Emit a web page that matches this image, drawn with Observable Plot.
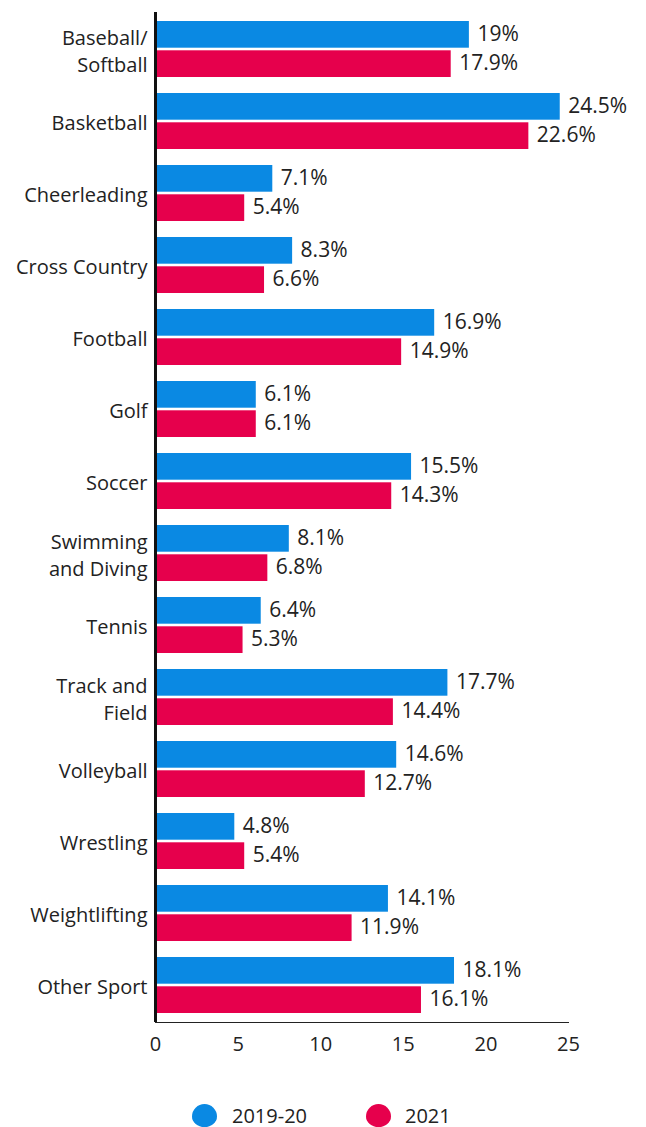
<!DOCTYPE html>
<html>
<head>
<meta charset="utf-8">
<script src="https://cdn.jsdelivr.net/npm/d3@7"></script>
<script src="https://cdn.jsdelivr.net/npm/@observablehq/plot@0.6"></script>
<style>
  body { margin: 0; background: #fff; font-family: "Open Sans", sans-serif; color: #222; }
  #chart { position: absolute; left: 0; top: 0; }
  .legend { position: absolute; top: 1104px; left: 0; width: 646px; height: 22px; font-size: 20px; }
  .legend .sw { position: absolute; width: 25px; height: 23px; border-radius: 50% 50% 50% 50% / 54% 54% 46% 46%; top: 0; }
  .legend .lb { position: absolute; top: 2px; height: 20px; line-height: 20px; white-space: nowrap; }
</style>
</head>
<body>
<div id="chart"></div>
<div class="legend" id="legend"></div>
<script>
const sports = ["Baseball/\nSoftball", "Basketball", "Cheerleading", "Cross Country", "Football", "Golf", "Soccer", "Swimming\nand Diving", "Tennis", "Track and\nField", "Volleyball", "Wrestling", "Weightlifting", "Other Sport"];
const values2019 = [19, 24.5, 7.1, 8.3, 16.9, 6.1, 15.5, 8.1, 6.4, 17.7, 14.6, 4.8, 14.1, 18.1];
const values2021 = [17.9, 22.6, 5.4, 6.6, 14.9, 6.1, 14.3, 6.8, 5.3, 14.4, 12.7, 5.4, 11.9, 16.1];
const seriesNames = ["2019-20", "2021"];
const seriesColors = ["#0a89e3", "#e6004c"];
const xTicks = [0, 5, 10, 15, 20, 25];

const d19 = sports.map((s, i) => ({sport: s, value: values2019[i]}));
const d21 = sports.map((s, i) => ({sport: s, value: values2021[i]}));

const half = 29.3;
const font = "'Open Sans', sans-serif";

const chart = Plot.plot({
  width: 646,
  height: 1072,
  marginLeft: 155,
  marginRight: 78,
  marginTop: 12,
  marginBottom: 50,
  style: {fontFamily: font, fontSize: "20px", color: "#222", background: "#fff"},
  x: {domain: [0, 25], ticks: xTicks, tickSize: 0, tickPadding: 14, line: true, label: null, tickFormat: d => String(d)},
  y: {domain: sports, paddingInner: 16 / 72, paddingOuter: 0.1, axis: null},
  marks: [
    Plot.barX(d19, {x: "value", y: "sport", fill: seriesColors[0], insetBottom: half, insetLeft: 2}),
    Plot.barX(d21, {x: "value", y: "sport", fill: seriesColors[1], insetTop: half, insetLeft: 2}),
    Plot.text(d19, {x: "value", y: "sport", text: d => d.value + "%", dx: 8, dy: -half / 2 - 0.5, textAnchor: "start", fontSize: 21, fill: "#222"}),
    Plot.text(d21, {x: "value", y: "sport", text: d => d.value + "%", dx: 8, dy: half / 2 - 0.5, textAnchor: "start", fontSize: 21, fill: "#222"}),
    Plot.text(sports, {x: 0, y: d => d, text: d => d, textAnchor: "end", dx: -8, fontSize: 20, lineHeight: 1.35, fill: "#222"}),
    Plot.ruleX([0], {stroke: "#111", strokeWidth: 3})
  ]
});
document.getElementById("chart").appendChild(chart);

const legend = document.getElementById("legend");
const pos = [[192, 232], [366, 405]];
seriesNames.forEach((name, i) => {
  const sw = document.createElement("div");
  sw.className = "sw";
  sw.style.left = pos[i][0] + "px";
  sw.style.background = seriesColors[i];
  legend.appendChild(sw);
  const lb = document.createElement("div");
  lb.className = "lb";
  lb.style.left = pos[i][1] + "px";
  lb.textContent = name;
  legend.appendChild(lb);
});
</script>
</body>
</html>
